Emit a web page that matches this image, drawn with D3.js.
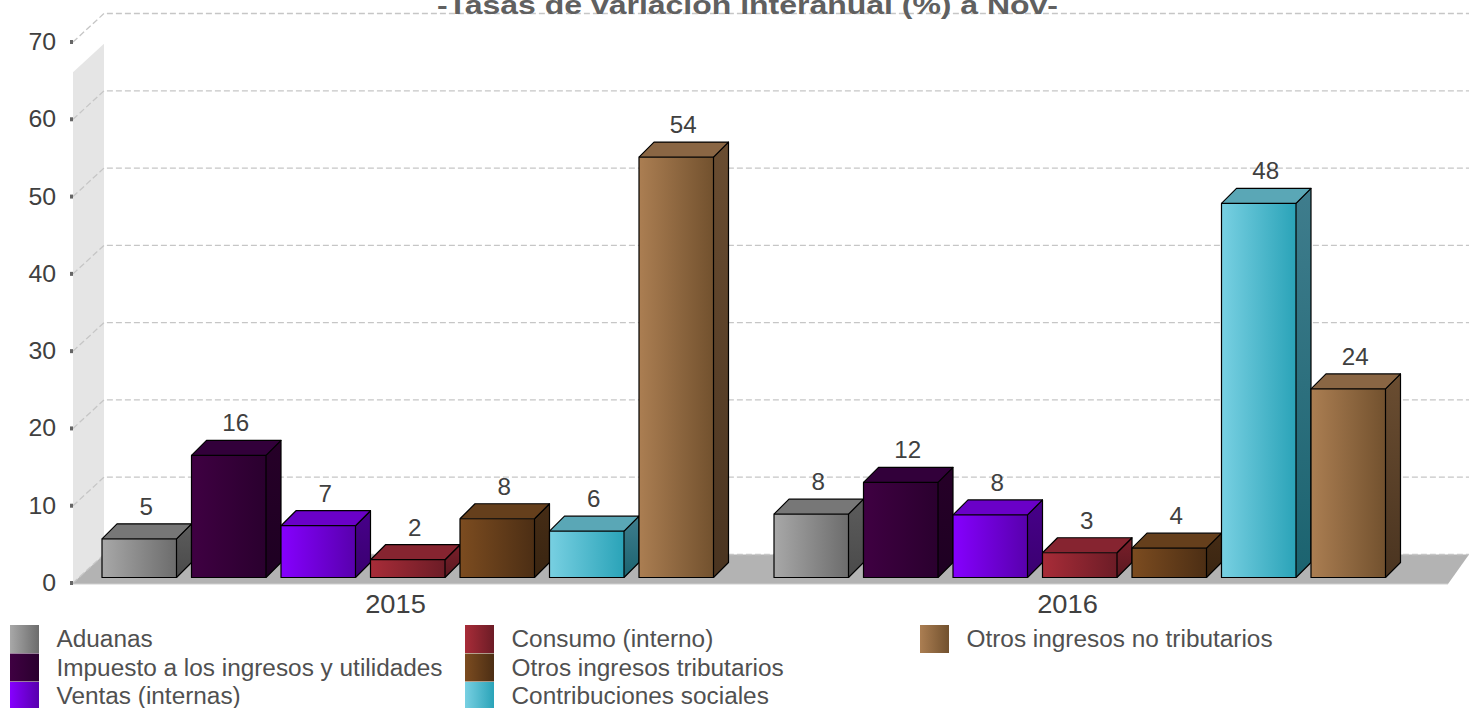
<!DOCTYPE html>
<html>
<head>
<meta charset="utf-8">
<script src="https://cdn.jsdelivr.net/npm/d3@7"></script>
<style>
  html, body { margin: 0; padding: 0; background: #fff; overflow: hidden; }
  text { font-family: "Liberation Sans", Arial, sans-serif; }
</style>
</head>
<body>
<svg width="1469" height="708"></svg>
<script>
var years = ["2015", "2016"];
var series = ["Aduanas", "Impuesto a los ingresos y utilidades", "Ventas (internas)", "Consumo (interno)",
  "Otros ingresos tributarios", "Contribuciones sociales", "Otros ingresos no tributarios"];
var values2015 = [5.0, 15.8, 6.7, 2.3, 7.6, 6.0, 54.4];
var values2016 = [8.2, 12.3, 8.1, 3.2, 3.8, 48.4, 24.4];
var lightColors = ["#a8a8a8", "#3f0042", "#8600ff", "#a82c38", "#7c4c20", "#78d0e2", "#ab7e52"];
var darkColors = ["#6c6c6c", "#2a002e", "#5800ad", "#6c1c26", "#4c2e14", "#2aa3b8", "#72512e"];
var topColors = ["#777777", "#32003a", "#6a00c8", "#862430", "#653f1c", "#5aa7b6", "#8a6644"];
var sideTop = ["#5c5c5c", "#260028", "#47008a", "#7a1f2a", "#452c15", "#3f7d8d", "#6a4d31"];
var sideBottom = ["#4a4a4a", "#1e0022", "#3a0070", "#5a1820", "#3a2511", "#1b636f", "#4a3420"];
var ticks = [0, 10, 20, 30, 40, 50, 60, 70];

var svg = d3.select("svg");
var depthX = 31, depthY = 28.5, barDepth = 15;

// y is the front plane of the floor, bars stand a bit further back
var y = d3.scaleLinear().domain([0, 70]).range([583, 42]);
var yBar = function(v) { return y(v) - 5.5; };
var x1 = d3.scaleBand().domain(series).range([0, 611.5]).paddingInner(0.1676).paddingOuter(0);
var yearOffset = d3.scaleOrdinal().domain(years).range([0, 672]);

var defs = svg.append("defs");
series.forEach(function(s, i) {
  var g = defs.append("linearGradient").attr("id", "grad" + i);
  g.append("stop").attr("offset", "0%").attr("stop-color", lightColors[i]);
  g.append("stop").attr("offset", "100%").attr("stop-color", darkColors[i]);
  var side = defs.append("linearGradient").attr("id", "side" + i).attr("x1", 0).attr("y1", 0).attr("x2", 0).attr("y2", 1);
  side.append("stop").attr("offset", "0%").attr("stop-color", sideTop[i]);
  side.append("stop").attr("offset", "100%").attr("stop-color", sideBottom[i]);
});

// text in the picture is a little wider than the font, so stretch it
function label(x, yPos, str, size, stretch, anchor, color, weight) {
  return svg.append("text")
    .attr("transform", "translate(" + x + "," + yPos + ") scale(" + stretch + ",1)")
    .attr("text-anchor", anchor)
    .attr("font-size", size)
    .attr("font-weight", weight || "normal")
    .attr("fill", color)
    .text(str);
}

// left wall and floor
var wallTop = 66.1;
svg.append("path")
  .attr("d", d3.line()([[73, y(wallTop)], [73 + depthX, y(wallTop) - depthY], [73 + depthX, y(0) - depthY], [73, y(0)]]))
  .attr("fill", "#e5e5e5");
svg.append("path")
  .attr("d", d3.line()([[73, y(0)], [73 + depthX, y(0) - depthY], [1469, y(0) - depthY], [1448, y(0) + 1], [73, y(0) + 1]]))
  .attr("fill", "#b3b3b3");
svg.append("line").attr("x1", 73).attr("x2", 1448).attr("y1", y(0) + 1).attr("y2", y(0) + 1)
  .attr("stroke", "#cfcfcf").attr("stroke-width", 1);

// gridlines, with the diagonal on the wall
var grid = svg.append("g").attr("fill", "none").attr("stroke", "#c6c6c6").attr("stroke-width", 1.3).attr("stroke-dasharray", "6,3");
ticks.forEach(function(t) {
  grid.append("path").attr("d", d3.line()([[73, y(t)], [73 + depthX, y(t) - depthY], [1469, y(t) - depthY]]));
});

// axis labels and tick marks
ticks.forEach(function(t) {
  svg.append("rect").attr("x", 70).attr("y", y(t) - 2).attr("width", 3).attr("height", 4).attr("fill", "#666");
  label(56, y(t) + 8, t, 23, 1.08, "end", "#404040");
});

function drawBars(year, vals) {
  vals.forEach(function(v, i) {
    var bw = x1.bandwidth();
    var xl = 102 + yearOffset(year) + x1(series[i]);
    var xr = xl + bw;
    var top = yBar(v), bottom = yBar(0);
    var g = svg.append("g").attr("stroke", "#000").attr("stroke-width", 1.2).attr("stroke-linejoin", "round");
    g.append("path")
      .attr("d", d3.line()([[xr, top], [xr + barDepth, top - barDepth], [xr + barDepth, bottom - barDepth], [xr, bottom]]))
      .attr("fill", "url(#side" + i + ")");
    g.append("path")
      .attr("d", d3.line()([[xl, top], [xl + barDepth, top - barDepth], [xr + barDepth, top - barDepth], [xr, top]]))
      .attr("fill", topColors[i]);
    g.append("rect").attr("x", xl).attr("y", top).attr("width", bw).attr("height", bottom - top)
      .attr("fill", "url(#grad" + i + ")");
    label(xl + bw / 2 + 7, top - 24, d3.format(".0f")(v), 23, 1.05, "middle", "#404040");
  });
}
drawBars("2015", values2015);
drawBars("2016", values2016);

// year labels
years.forEach(function(yr) {
  label(395.5 + yearOffset(yr), 613, yr, 25, 1.09, "middle", "#404040");
});

// title, cut by the top of the page as in the picture
label(747.5, 14, "-Tasas de variación interanual (%) a Nov-", 26, 1.23, "middle", "#606060", "bold");

// legend, filled column by column
var legendX = [10, 465, 920], legendY = [625, 653.5, 682];
series.forEach(function(s, i) {
  var lx = legendX[Math.floor(i / 3)], ly = legendY[i % 3];
  svg.append("rect").attr("x", lx).attr("y", ly).attr("width", 29).attr("height", 28)
    .attr("fill", "url(#grad" + i + ")");
  label(lx + 46.5, ly + 22, s, 23, 1.06, "start", "#505050");
});
</script>
</body>
</html>
